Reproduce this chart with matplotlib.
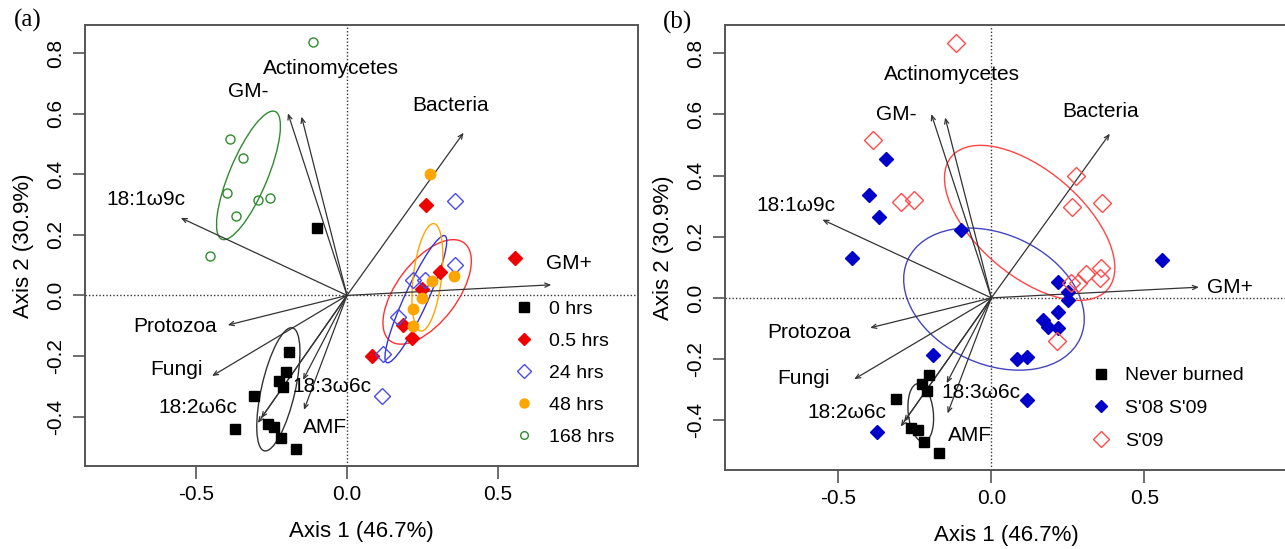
import matplotlib.pyplot as plt
from matplotlib.patches import Ellipse
from matplotlib.lines import Line2D
import numpy as np

plt.rcParams['font.family'] = ['Liberation Sans', 'DejaVu Sans']

# ---- points, panel (a): sampling time after fire ----
hrs0_x = [-0.099, -0.191, -0.204, -0.227, -0.211, -0.310, -0.373, -0.262, -0.241, -0.219, -0.170]
hrs0_y = [0.223, -0.188, -0.252, -0.283, -0.303, -0.331, -0.440, -0.425, -0.433, -0.470, -0.508]
hrs05_x = [0.263, 0.557, 0.309, 0.249, 0.185, 0.215, 0.084]
hrs05_y = [0.297, 0.125, 0.077, 0.020, -0.096, -0.142, -0.200]
hrs24_x = [0.360, 0.357, 0.219, 0.260, 0.170, 0.118, 0.116]
hrs24_y = [0.311, 0.099, 0.052, 0.050, -0.072, -0.194, -0.333]
hrs48_x = [0.277, 0.355, 0.283, 0.249, 0.219, 0.218]
hrs48_y = [0.400, 0.064, 0.048, -0.008, -0.046, -0.100]
hrs168_x = [-0.114, -0.387, -0.345, -0.399, -0.296, -0.254, -0.367, -0.455]
hrs168_y = [0.835, 0.516, 0.455, 0.337, 0.314, 0.320, 0.263, 0.130]

# ---- points, panel (b): burn history ----
never_x = [-0.204, -0.227, -0.211, -0.310, -0.262, -0.241, -0.219, -0.170]
never_y = [-0.252, -0.283, -0.303, -0.331, -0.425, -0.433, -0.470, -0.508]
s0809_x = [-0.345, -0.399, -0.367, -0.455, -0.099, -0.191, -0.373,
           0.557, 0.249, 0.185, 0.084, 0.219, 0.170, 0.118, 0.116, 0.249, 0.219, 0.218]
s0809_y = [0.455, 0.337, 0.263, 0.130, 0.223, -0.188, -0.440,
           0.125, 0.020, -0.096, -0.200, 0.052, -0.072, -0.194, -0.333, -0.008, -0.046, -0.100]
s09_x = [-0.114, -0.387, -0.296, -0.254, 0.263, 0.309, 0.215, 0.360, 0.357, 0.260, 0.277, 0.355, 0.283]
s09_y = [0.835, 0.516, 0.314, 0.320, 0.297, 0.077, -0.142, 0.311, 0.099, 0.050, 0.400, 0.064, 0.048]

# ---- biplot vectors (same in both panels) ----
vec_names = ['Bacteria', 'GM+', 'Actinomycetes', 'GM-', '18:1ω9c', 'Protozoa',
             'Fungi', '18:2ω6c', '', '18:3ω6c', 'AMF']
vec_x = [0.387, 0.678, -0.151, -0.196, -0.552, -0.396, -0.448, -0.296, -0.285, -0.146, -0.143]
vec_y = [0.537, 0.035, 0.590, 0.601, 0.256, -0.098, -0.266, -0.421, -0.405, -0.279, -0.378]

# label positions for the vectors in each panel
lab_a = {'Bacteria': (0.344, 0.626), 'GM+': (0.736, 0.104), 'Actinomycetes': (-0.053, 0.748),
         'GM-': (-0.329, 0.672), '18:1ω9c': (-0.667, 0.315), 'Protozoa': (-0.572, -0.104),
         'Fungi': (-0.567, -0.245), '18:2ω6c': (-0.495, -0.370), '18:3ω6c': (-0.049, -0.300),
         'AMF': (-0.073, -0.435)}
lab_b = {'Bacteria': (0.357, 0.608), 'GM+': (0.778, 0.034), 'Actinomycetes': (-0.129, 0.731),
         'GM-': (-0.311, 0.600), '18:1ω9c': (-0.640, 0.303), 'Protozoa': (-0.597, -0.114),
         'Fungi': (-0.613, -0.265), '18:2ω6c': (-0.473, -0.375), '18:3ω6c': (-0.034, -0.311),
         'AMF': (-0.071, -0.451)}

xlim = (-0.87, 0.966)
ylim = (-0.563, 0.891)


def sd_ellipse(ax, x, y, color):
    # one standard deviation ellipse around group centroid
    pts = np.column_stack([x, y])
    c = pts.mean(axis=0)
    cov = np.cov(pts, rowvar=False)
    vals, vecs = np.linalg.eigh(cov)
    ang = np.degrees(np.arctan2(vecs[1, 1], vecs[0, 1]))
    e = Ellipse(c, 2 * np.sqrt(vals[1]), 2 * np.sqrt(vals[0]), angle=ang,
                fill=False, edgecolor=color, lw=1.0, zorder=2)
    ax.add_patch(e)


def setup(ax, labels):
    ax.set_xlim(*xlim)
    ax.set_ylim(*ylim)
    ax.axhline(0, color='#333333', ls=(0, (1, 1.5)), lw=1.0, zorder=1)
    ax.axvline(0, color='#333333', ls=(0, (1, 1.5)), lw=1.0, zorder=1)
    for name, vx, vy in zip(vec_names, vec_x, vec_y):
        ax.annotate('', xy=(vx, vy), xytext=(0, 0),
                    arrowprops=dict(arrowstyle='->,head_length=0.35,head_width=0.15',
                                    color='#333333', lw=0.9, shrinkA=0, shrinkB=0),
                    zorder=3)
        if name:
            ax.text(labels[name][0], labels[name][1], name, fontsize=15,
                    ha='center', va='center', zorder=4)
    ax.set_xticks([-0.5, 0.0, 0.5])
    ax.set_xticklabels(['-0.5', '0.0', '0.5'])
    ax.set_yticks([-0.4, -0.2, 0.0, 0.2, 0.4, 0.6, 0.8])
    ax.set_yticklabels(['-0.4', '-0.2', '0.0', '0.2', '0.4', '0.6', '0.8'], rotation=90, va='center')
    ax.tick_params(labelsize=15, length=9, width=1.2, color='#555555', pad=5)
    for s in ax.spines.values():
        s.set_color('#555555')
        s.set_linewidth(1.4)
    ax.set_xlabel('Axis 1 (46.7%)', fontsize=16, labelpad=12)
    ax.set_ylabel('Axis 2 (30.9%)', fontsize=16, labelpad=9)


fig = plt.figure(figsize=(12.85, 5.49), dpi=100)

# ---------- panel (a) ----------
ax1 = fig.add_axes([0.0661, 0.1512, 0.4304, 0.8024])
setup(ax1, lab_a)
sd_ellipse(ax1, hrs0_x, hrs0_y, '#333333')
sd_ellipse(ax1, hrs05_x, hrs05_y, '#ff3030')
sd_ellipse(ax1, hrs24_x, hrs24_y, '#3535d8')
sd_ellipse(ax1, hrs48_x, hrs48_y, '#ffa500')
sd_ellipse(ax1, hrs168_x, hrs168_y, '#2e8b2e')
ax1.plot(hrs0_x, hrs0_y, 's', color='black', ms=7.5, ls='none', zorder=5)
ax1.plot(hrs05_x, hrs05_y, 'D', color='#ee0000', ms=7.5, ls='none', zorder=5)
ax1.plot(hrs24_x, hrs24_y, 'D', mfc='none', mec='#4a4ae8', mew=1.0, ms=8, ls='none', zorder=5)
ax1.plot(hrs48_x, hrs48_y, 'o', color='#ffa500', ms=7.5, ls='none', zorder=5)
ax1.plot(hrs168_x, hrs168_y, 'o', mfc='none', mec='#2e8b2e', mew=1.0, ms=6.5, ls='none', zorder=5)
h1 = [Line2D([], [], marker='s', color='black', ls='none', ms=6.5),
      Line2D([], [], marker='D', color='#ee0000', ls='none', ms=6.5),
      Line2D([], [], marker='D', mfc='none', mec='#4a4ae8', ls='none', ms=7.5),
      Line2D([], [], marker='o', color='#ffa500', ls='none', ms=6.5),
      Line2D([], [], marker='o', mfc='none', mec='#2e8b2e', ls='none', ms=5.5)]
ax1.legend(h1, ['0 hrs', '0.5 hrs', '24 hrs', '48 hrs', '168 hrs'], loc='upper left',
           bbox_to_anchor=(0.776, 0.376), frameon=False, fontsize=14, handlelength=1.0,
           handletextpad=0.8, labelspacing=0.74, borderaxespad=0, borderpad=0)
fig.text(28 / 1285, 1 - 20 / 549, '(a)', fontsize=18, family='Liberation Serif',
         ha='center', va='center')

# ---------- panel (b) ----------
ax2 = fig.add_axes([0.5642, 0.1439, 0.4374, 0.8097])
setup(ax2, lab_b)
sd_ellipse(ax2, never_x, never_y, '#333333')
sd_ellipse(ax2, s0809_x, s0809_y, '#4545c0')
sd_ellipse(ax2, s09_x, s09_y, '#ff4545')
ax2.plot(never_x, never_y, 's', color='black', ms=7.5, ls='none', zorder=5)
ax2.plot(s0809_x, s0809_y, 'D', color='#0000c8', ms=7.5, ls='none', zorder=5)
ax2.plot(s09_x, s09_y, 'D', mfc='none', mec='#ff4a4a', mew=1.0, ms=9, ls='none', zorder=5)
h2 = [Line2D([], [], marker='s', color='black', ls='none', ms=6.5),
      Line2D([], [], marker='D', color='#0000c8', ls='none', ms=6.5),
      Line2D([], [], marker='D', mfc='none', mec='#ff4a4a', ls='none', ms=8)]
ax2.legend(h2, ['Never burned', "S'08 S'09", "S'09"], loc='upper left',
           bbox_to_anchor=(0.652, 0.232), frameon=False, fontsize=14, handlelength=1.0,
           handletextpad=0.75, labelspacing=0.78, borderaxespad=0, borderpad=0)
fig.text(678 / 1285, 1 - 22 / 549, '(b)', fontsize=18, family='Liberation Serif',
         ha='center', va='center')

fig.savefig('out.png', dpi=100)
